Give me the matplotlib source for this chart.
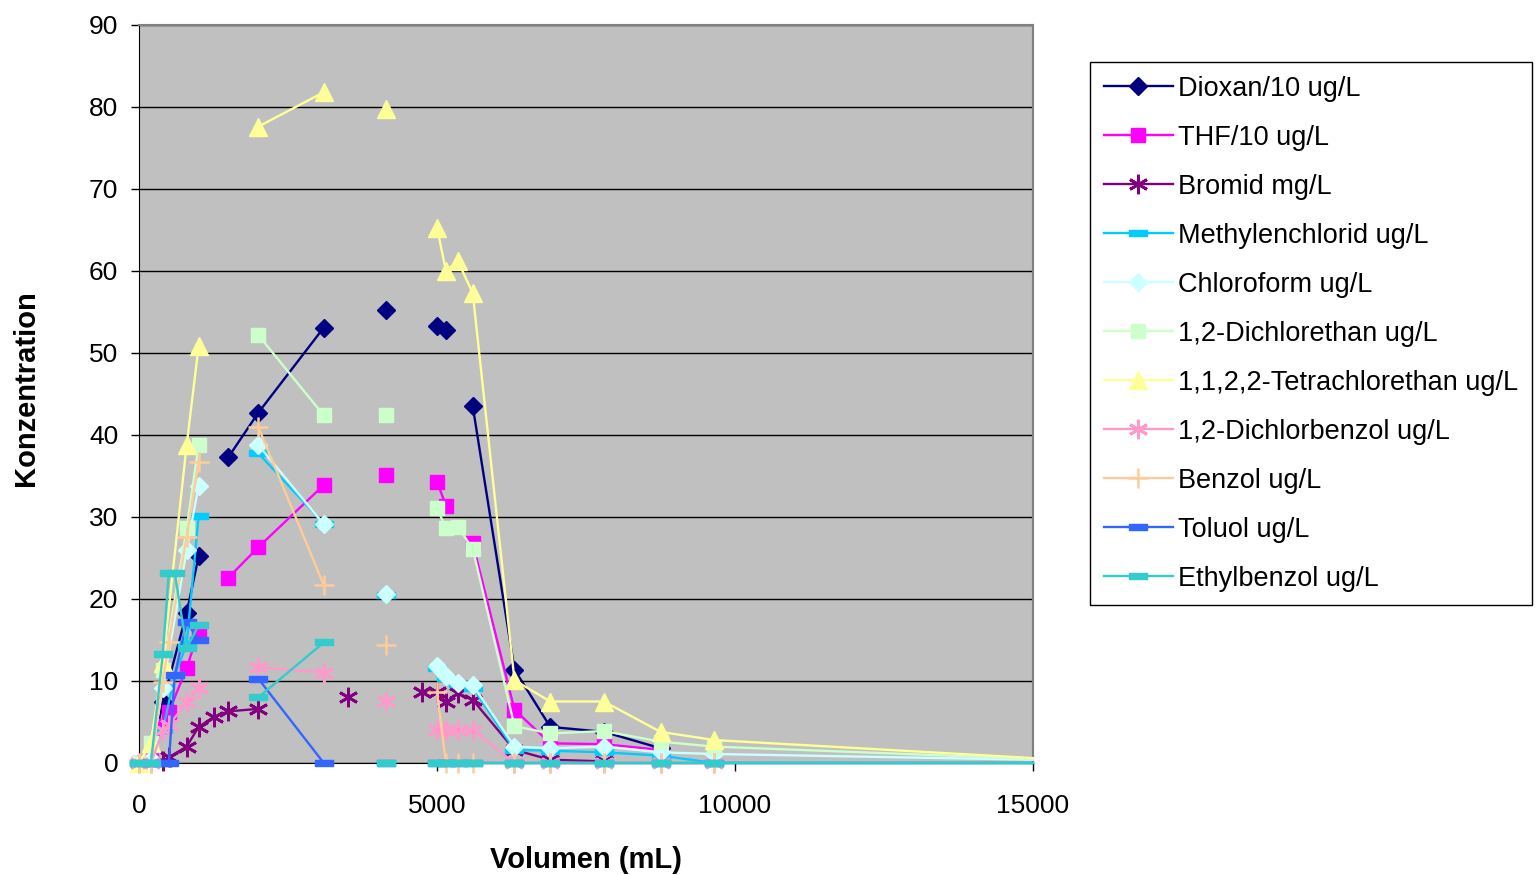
import numpy as np
import matplotlib
matplotlib.use("Agg")
import matplotlib.pyplot as plt
from matplotlib.lines import Line2D

plt.rcParams['font.family'] = ['Liberation Sans', 'DejaVu Sans']

N = None          # not measured: skipped, line continues
G = float('nan')  # gap: line is broken

volumen = [0, 200, 400, 500, 600, 800, 1000, 1250, 1500, 2000, 3100, 3500, 4150,
           4750, 5000, 5150, 5350, 5600, 6300, 6900, 7800, 8750, 9650, 15000]

dioxan = [0, 0.5, 7.4, N, N, 18.3, 25.2, G, 37.3, 42.7, 53.1, G, 55.3, G, 53.3, 52.8,
          G, 43.5, 11.4, 4.4, 3.8, 1.8, G, G]
thf = [0, 0.7, 4.5, 6.2, N, 11.6, 16.0, G, 22.6, 26.3, 33.9, G, 35.1, G, 34.3, 31.4,
       G, 26.8, 6.5, 2.4, 2.3, 1.6, G, G]
bromid = [N, N, 0.2, 0.7, N, 2.0, 4.4, 5.6, 6.3, 6.6, G, 8.0, G, 8.7, 8.7, 7.4,
          8.5, 7.7, 1.6, 0.4, 0.2, G, G, G]
methylenchlorid = [0, 0, 4.0, N, 10.7, 14.5, 30.1, G, G, 37.8, 29.2, G, 20.5, G, 11.6,
                   10.4, 9.6, 9.2, 1.6, 1.5, 1.3, 0.9, 0, 0]
chloroform = [0, 0.5, 9.2, N, N, 26.0, 33.8, G, G, 38.8, 29.1, G, 20.6, G, 11.8, 10.6,
              9.8, 9.5, 2.0, 1.8, 2.0, 1.3, 1.1, 0.4]
dichlorethan = [0, 2.4, 11.3, N, N, 28.6, 38.8, G, G, 52.2, 42.4, G, 42.4, G, 31.1,
                28.6, 28.8, 26.1, 4.5, 3.6, 3.9, 2.6, 2.0, 0.5]
tetrachlorethan = [0, 2.4, 12.2, N, N, 38.8, 50.8, G, G, 77.6, 81.8, G, 79.7, G, 65.3,
                   60.0, 61.2, 57.3, 10.1, 7.5, 7.5, 3.8, 2.8, 0.6]
dichlorbenzol = [0, 0, 4.0, 4.6, N, 7.4, 9.1, G, G, 11.7, 11.0, G, 7.6, G, 4.0, 4.0,
                 4.0, 4.0, 0, 0, 0, 0, 0, G]
benzol = [0, 0, 9.9, 14.8, N, 27.6, 36.7, G, G, 41.0, 21.7, G, 14.4, G, 8.7, 0, 0, 0,
          0, 0, 0, 0, 0, G]
toluol = [0, 0, 0, 0, 10.7, 17.2, 15.0, G, G, 10.3, 0, G, 0, G, 0, 0, 0, 0, 0, 0, 0,
          0, 0, 0]
ethylbenzol = [0, 0, 13.3, 23.2, 23.2, 14.0, 16.8, G, G, 8.0, 14.7, G, 0, G, 0, 0, 0,
               0, 0, 0, 0, 0, 0, 0]

labels = ["Dioxan/10 ug/L", "THF/10 ug/L", "Bromid mg/L", "Methylenchlorid ug/L",
          "Chloroform ug/L", "1,2-Dichlorethan ug/L", "1,1,2,2-Tetrachlorethan ug/L",
          "1,2-Dichlorbenzol ug/L", "Benzol ug/L", "Toluol ug/L", "Ethylbenzol ug/L"]

x_ticks = [0, 5000, 10000, 15000]
y_ticks = [0, 10, 20, 30, 40, 50, 60, 70, 80, 90]

dash = [(-1, -0.28), (1, -0.28), (1, 0.28), (-1, 0.28), (-1, -0.28)]
ast = (6, 2, 0)

styles = [
    dict(color='#000080', marker='D', ms=9.5),
    dict(color='#FF00FF', marker='s', ms=10.5),
    dict(color='#800080', marker=ast, ms=14, mew=2.0),
    dict(color='#00CCFF', marker=dash, ms=13),
    dict(color='#CCFFFF', marker='D', ms=9.5),
    dict(color='#CCFFCC', marker='s', ms=10.5),
    dict(color='#FFFF99', marker='^', ms=13.5),
    dict(color='#FF99CC', marker=ast, ms=14, mew=2.0),
    dict(color='#FFCC99', marker='+', ms=14, mew=1.8),
    dict(color='#3366FF', marker=dash, ms=13),
    dict(color='#33CCCC', marker=dash, ms=13),
]

series = [dioxan, thf, bromid, methylenchlorid, chloroform, dichlorethan,
          tetrachlorethan, dichlorbenzol, benzol, toluol, ethylbenzol]

fig = plt.figure(figsize=(15.38, 8.75), dpi=100)
ax = fig.add_axes([139/1538, 1-763/875, (1033-139)/1538, (763-25)/875])
ax.set_facecolor('#C0C0C0')

x_max = 15000
handles = []
for i, (ys, st, lab) in enumerate(zip(series, styles, labels)):
    xs = [x for x, y in zip(volumen, ys) if y is not None]
    yv = np.array([y for y in ys if y is not None], dtype=float)
    col = st['color']
    mark_idx = [k for k, x in enumerate(xs) if x < x_max]
    kw = dict(color=col, lw=1.7, marker=st['marker'], ms=st['ms'],
              mfc=col, mec=col, mew=st.get('mew', 1.0))
    ax.plot(xs, yv, markevery=mark_idx, clip_on=False, zorder=3+i, **kw)
    handles.append(Line2D([], [], **kw))

ax.set_xlim(0, x_max)
ax.set_ylim(0, 90)
ax.set_xticks(x_ticks)
ax.set_yticks(y_ticks)
ax.yaxis.grid(True, color='black', lw=1.0)
ax.set_axisbelow(True)
for s in ('top', 'right'):
    ax.spines[s].set_color('#808080')
    ax.spines[s].set_linewidth(1.5)
ax.spines['left'].set_color('black')
ax.spines['bottom'].set_color('black')
ax.tick_params(axis='y', length=6, pad=9, labelsize=19, width=1)
ax.tick_params(axis='x', length=6, pad=16, labelsize=19, width=1)

ax.set_xlabel("Volumen (mL)", fontsize=21, fontweight='bold')
ax.set_ylabel("Konzentration", fontsize=21, fontweight='bold')
ax.xaxis.set_label_coords(0.5, -0.113)
ax.yaxis.set_label_coords(-0.111, 0.508)

leg = fig.legend(handles, labels, loc='upper left',
                 bbox_to_anchor=(1090/1538, 1-62/875), fontsize=19.5,
                 frameon=True, fancybox=False, edgecolor='black', framealpha=1,
                 handlelength=2.55, handletextpad=0.2, labelspacing=0.85,
                 borderpad=0.5, borderaxespad=0)
leg.get_frame().set_linewidth(1.0)

fig.savefig("out.png", dpi=100)
